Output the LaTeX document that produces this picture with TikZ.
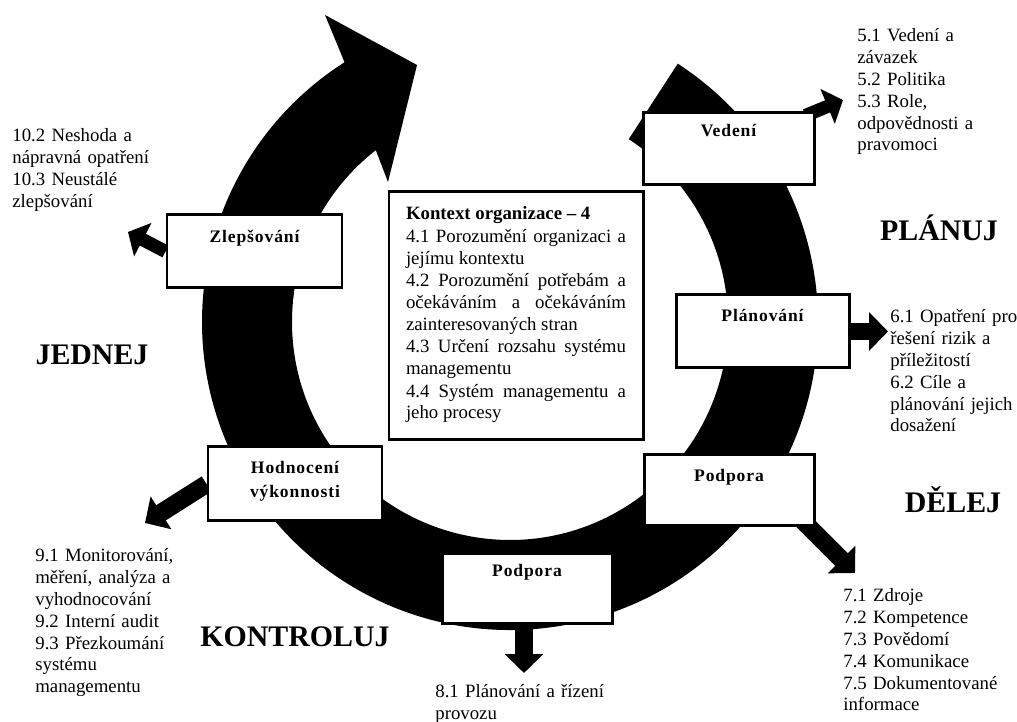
\documentclass[tikz,border=0pt]{standalone}
\usepackage{fontspec}
\setmainfont{Liberation Serif}
\newfontfamily\boxfont[LetterSpace=5]{Liberation Serif}
\usetikzlibrary{arrows.meta,calc}
\newlength\pxu
\setlength\pxu{0.02cm}
\pgfdeclarelayer{bg}
\pgfsetlayers{bg,main}

\begin{document}
\begin{tikzpicture}[x=0.02cm, y=0.02cm,
  box/.style={draw=black, line width=1.7pt, fill=white, inner sep=0pt, align=center,
    font=\boxfont\bfseries\fontsize{10}{13.6}\selectfont},
  ctxbox/.style={draw=black, line width=1.7pt, fill=white, inner xsep=17\pxu, inner ysep=0pt,
    align=justify, text width=220\pxu, font=\fontsize{10.7}{12.4}\selectfont},
  note/.style={anchor=base west, inner sep=0pt, align=left, text width=220\pxu,
    font=\fontsize{10.7}{12.4}\selectfont},
  phase/.style={inner sep=0pt, font=\fontsize{17}{20}\selectfont\bfseries},
  fatarrow/.style={draw=black, line width=10.2pt, -{Triangle[length=10.8pt, width=21.5pt]}},
  slimarrow/.style={draw=black, line width=7.5pt, -{Triangle[length=9.5pt, width=21pt]}}
]
\useasboundingbox (0,0) rectangle (1017,722);

% PDCA stages on the cycle
\node[box, text width=175\pxu, text height=28\pxu, text depth=45\pxu] (zlep) at (254.5,470.5) {Zlepšování};
\node[box, text width=171\pxu, text height=24\pxu, text depth=48\pxu] (vedeni) at (728.5,573) {Vedení};
\node[box, text width=173\pxu, text height=27\pxu, text depth=46\pxu] (plan) at (762.5,390.5) {Plánování};
\node[box, text width=170\pxu, text height=27\pxu, text depth=44\pxu] (podr) at (729,231.5) {Podpora};
\node[box, text width=170\pxu, text height=23\pxu, text depth=47\pxu] (podb) at (527,133) {Podpora};
\node[box, text width=174\pxu, text height=27\pxu, text depth=47\pxu] (hod) at (295,238) {Hodnocení\\výkonnosti};

% context of the organisation in the middle
\node[ctxbox, text height=28\pxu, text depth=220\pxu] (ctx) at (516,406) {%
\setlength\parskip{0.4pt}%
{\bfseries Kontext organizace – 4}\par
4.1 Porozumění organizaci a\linebreak jejímu kontextu\par
4.2 Porozumění potřebám a\linebreak očekáváním a očekáváním\linebreak zainteresovaných stran\par
4.3 Určení rozsahu systému\linebreak managementu\par
4.4 Systém managementu a\linebreak jeho procesy\par};

% clause lists
\node[note] (n10) at (12,580) {10.2 Neshoda a\\nápravná opatření\\10.3 Neustálé\\zlepšování};
\node[note] (n5) at (857,680) {5.1 Vedení a\\závazek\\5.2 Politika\\5.3 Role,\\odpovědnosti a\\pravomoci};
\node[note] (n6) at (890,399) {6.1 Opatření pro\\řešení rizik a\\příležitostí\\6.2 Cíle a\\plánování jejich\\dosažení};
\node[note] (n7) at (843,120) {7.1 Zdroje\\7.2 Kompetence\\7.3 Povědomí\\7.4 Komunikace\\7.5 Dokumentované\\informace};
\node[note] (n8) at (435,24) {8.1 Plánování a řízení\\provozu};
\node[note] (n9) at (35,160) {9.1 Monitorování,\\měření, analýza a\\vyhodnocování\\9.2 Interní audit\\9.3 Přezkoumání\\systému\\managementu};

% phase names
\node[phase] (planuj) at (939,494) {PLÁNUJ};
\node[phase] (delej) at (953,222) {DĚLEJ};
\node[phase] (kontroluj) at (295,85) {KONTROLUJ};
\node[phase] (jednej) at (92,367) {JEDNEJ};

% arrow ends
\coordinate (zlepEnd) at (128,490);
\coordinate (vedEnd) at (843,622);
\coordinate (planEnd) at (888,390.5);
\coordinate (podrEnd) at (855,149);
\coordinate (podbEnd) at (524,49);
\coordinate (hodEnd) at (145,199);
\coordinate (C) at (510,400);

\begin{pgfonlayer}{bg}
  \fill[white] (0,0) rectangle (1017,722);
  % the big circular arrow
  \fill[black] ($(C)+(57:308)$) arc[start angle=57, end angle=-237.5, radius=308]
    -- (325,707) -- (417,657) -- (388,540)
    -- ($(C)+(128:218)$) arc[start angle=128, end angle=417, radius=218] -- cycle;
  % short arrows from the stages to their clauses
  \draw[slimarrow] (zlep.west) -- (zlepEnd);
  \draw[slimarrow] ($(vedeni.north east)+(-10,-4)$) -- (vedEnd);
  \draw[fatarrow] (plan.east) -- (planEnd);
  \draw[fatarrow] ($(podr.south east)+(-16,10)$) -- (podrEnd);
  \draw[fatarrow] ($(podb.south)+(-3,0)$) -- (podbEnd);
  \draw[fatarrow] (hod.west) -- (hodEnd);
\end{pgfonlayer}
\end{tikzpicture}
\end{document}
